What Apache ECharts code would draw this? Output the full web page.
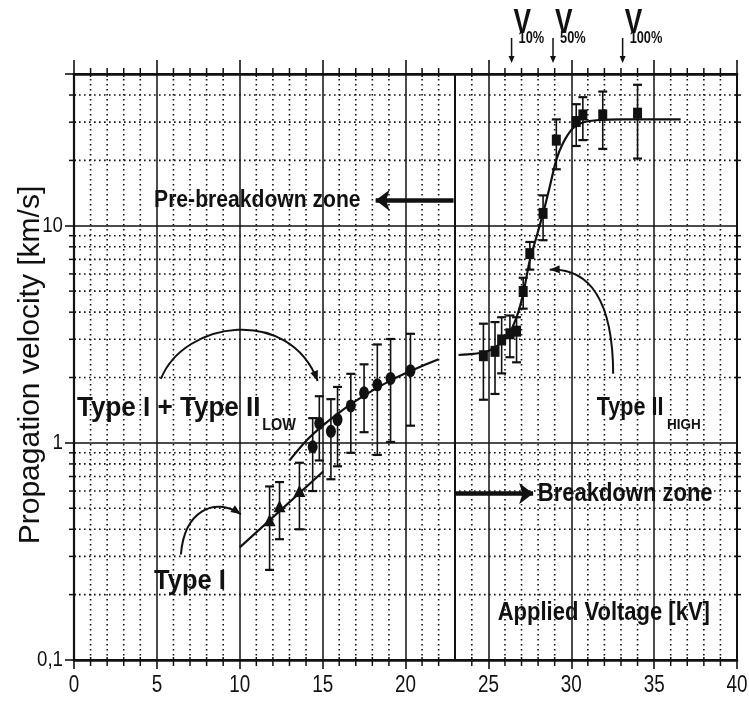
<!DOCTYPE html>
<html>
<head>
<meta charset="utf-8">
<script src="https://cdn.jsdelivr.net/npm/echarts@6/dist/echarts.min.js"></script>
<style>
  html, body { margin: 0; padding: 0; background: #fff; }
  #chart { width: 749px; height: 704px; }
</style>
</head>
<body>
<div id="chart"></div>
<script>
// ---- axes ----
const X_MIN = 0, X_MAX = 40, Y_MIN = 0.1, Y_MAX = 50;
const X_TICKS = [0, 5, 10, 15, 20, 25, 30, 35, 40];
const X_TICK_LABELS = ['0', '5', '10', '15', '20', '25', '30', '35', '40'];
const X_MINOR = [1, 2, 3, 4, 6, 7, 8, 9, 11, 12, 13, 14, 16, 17, 18, 19, 21, 22, 23, 24,
                 26, 27, 28, 29, 31, 32, 33, 34, 36, 37, 38, 39];
const Y_TICKS = [0.1, 1, 10];
const Y_TICK_LABELS = ['0,1', '1', '10'];
const Y_MINOR = [0.2, 0.3, 0.4, 0.5, 0.6, 0.7, 0.8, 0.9, 2, 3, 4, 5, 6, 7, 8, 9, 20, 30, 40];
const ZONE_BOUNDARY_KV = 23;

// ---- Type I (triangles) ----
const TYPE1_KV = [11.8, 12.4, 13.6];
const TYPE1_V  = [0.44, 0.51, 0.60];
const TYPE1_HI = [0.63, 0.66, 0.81];
const TYPE1_LO = [0.26, 0.36, 0.40];

// ---- Type I + Type II low (circles) ----
const TYPE2L_KV = [14.4, 14.8, 15.5, 15.9, 16.7, 17.5, 18.3, 19.1, 20.3];
const TYPE2L_V  = [0.96, 1.23, 1.13, 1.28, 1.48, 1.70, 1.85, 1.98, 2.15];
const TYPE2L_HI = [1.30, 1.64, 1.59, 1.81, 2.08, 2.30, 2.84, 3.01, 3.18];
const TYPE2L_LO = [0.60, 0.83, 0.68, 0.78, 0.90, 1.12, 0.88, 1.01, 1.20];

// ---- Type II high (squares) ----
const TYPE2H_KV = [24.7, 25.4, 25.8, 26.3, 26.7, 27.1, 27.5, 28.3, 29.1, 30.3, 30.7, 31.9, 34.0];
const TYPE2H_V  = [2.52, 2.64, 2.98, 3.18, 3.27, 4.98, 7.44, 11.4, 24.8, 30.2, 32.4, 32.4, 33.0];
const TYPE2H_HI = [3.54, 3.60, 3.79, 3.86, 3.79, 5.76, 8.42, 13.8, 30.9, 36.3, 39.1, 41.5, 44.6];
const TYPE2H_LO = [1.58, 1.68, 2.09, 2.48, 2.35, 4.15, 6.28, 8.58, 18.2, 23.3, 24.8, 22.6, 20.4];

// ---- fitted trends ----
const FIT1_KV = [10.0, 15.05];
const FIT1_V  = [0.33, 0.74];
const FIT2L_KV = [13.0, 14.0, 15.0, 16.0, 17.0, 18.0, 19.0, 20.0, 21.0, 22.0];
const FIT2L_V  = [0.83, 1.02, 1.20, 1.38, 1.56, 1.74, 1.92, 2.09, 2.26, 2.43];
const FIT2H_KV = [23.2, 24.1, 25.0, 26.1, 26.7, 27.1, 27.5, 27.9, 28.3, 28.7, 29.1, 29.5, 30.1, 30.7, 31.7, 33.0, 36.6];
const FIT2H_V  = [2.54, 2.57, 2.65, 3.06, 3.79, 4.86, 6.93, 8.88, 11.4, 15.1, 20.1, 24.0, 28.1, 29.9, 30.7, 30.9, 30.9];

// ---- threshold voltages ----
const V_LEVELS = ['10%', '50%', '100%'];
const V_LEVEL_KV = [26.4, 28.9, 33.1];

const INK = '#111';
const FONT = '"Liberation Sans", Arial, sans-serif';

const zip = (xs, ys) => xs.map((x, i) => [x, ys[i]]);
const bars = (xs, lo, hi) => xs.map((x, i) => [x, lo[i], hi[i]]);

const chart = echarts.init(document.getElementById('chart'));

function gridLines(data, vertical) {
  return {
    type: 'custom',
    silent: true,
    z: 1,
    data: data.map(v => vertical ? [v, 1] : [1, v]),
    encode: { x: 0, y: 1 },
    renderItem: (params, api) => {
      const v = vertical ? api.value(0) : api.value(1);
      const a = vertical ? api.coord([v, Y_MAX]) : api.coord([X_MIN, v]);
      const b = vertical ? api.coord([v, Y_MIN]) : api.coord([X_MAX, v]);
      const dot = { stroke: INK, lineWidth: 1.6, lineDash: [1.6, 3.4] };
      const solid = { stroke: INK, lineWidth: 1.5 };
      const kids = [{ type: 'line', shape: { x1: a[0], y1: a[1], x2: b[0], y2: b[1] }, style: dot }];
      if (vertical) {
        kids.push({ type: 'line', shape: { x1: a[0], y1: a[1] - 6, x2: a[0], y2: a[1] + 3 }, style: solid });
        kids.push({ type: 'line', shape: { x1: b[0], y1: b[1] - 3, x2: b[0], y2: b[1] + 6 }, style: solid });
      } else {
        kids.push({ type: 'line', shape: { x1: a[0] - 5, y1: a[1], x2: a[0] + 2, y2: a[1] }, style: solid });
        kids.push({ type: 'line', shape: { x1: b[0] - 2, y1: b[1], x2: b[0] + 4, y2: b[1] }, style: solid });
      }
      return { type: 'group', children: kids };
    }
  };
}

function errorBars(data) {
  return {
    type: 'custom',
    silent: true,
    z: 3,
    data: data,
    encode: { x: 0, y: [1, 2] },
    renderItem: (params, api) => {
      const x = api.value(0);
      const lo = api.coord([x, api.value(1)]);
      const hi = api.coord([x, api.value(2)]);
      const w = 4.5;
      const st = { stroke: INK, lineWidth: 1.6 };
      return {
        type: 'group',
        children: [
          { type: 'line', shape: { x1: lo[0], y1: lo[1], x2: hi[0], y2: hi[1] }, style: st },
          { type: 'line', shape: { x1: hi[0] - w, y1: hi[1], x2: hi[0] + w, y2: hi[1] }, style: { stroke: INK, lineWidth: 2.2 } },
          { type: 'line', shape: { x1: lo[0] - w, y1: lo[1], x2: lo[0] + w, y2: lo[1] }, style: { stroke: INK, lineWidth: 2.2 } }
        ]
      };
    }
  };
}

const fit = (xs, ys, smooth) => ({
  type: 'line', data: zip(xs, ys), showSymbol: false, symbol: 'none', smooth: smooth,
  lineStyle: { color: INK, width: 2.2 }, z: 3, silent: true
});

const markers = (xs, ys, symbol, size) => ({
  type: 'scatter', data: zip(xs, ys), symbol: symbol, symbolSize: size,
  itemStyle: { color: INK, opacity: 1 }, z: 4, silent: true
});

const xAxisBase = {
  type: 'value', min: X_MIN, max: X_MAX, interval: 5,
  axisLine: { show: true, onZero: false, lineStyle: { color: INK, width: 2.6 } },
  axisLabel: { show: false },
  splitLine: { show: false }
};

chart.setOption({
  animation: false,
  backgroundColor: '#fff',
  grid: { left: 74, right: 12, top: 74, bottom: 44, show: true, borderColor: INK, borderWidth: 2 },
  xAxis: [
    Object.assign({}, xAxisBase, {
      position: 'bottom',
      axisTick: { show: true, length: 9, lineStyle: { color: INK, width: 1.6 } },
      splitLine: { show: true, lineStyle: { color: INK, width: 1.5 } }
    }),
    Object.assign({}, xAxisBase, {
      position: 'top',
      axisTick: { show: true, length: 14, lineStyle: { color: INK, width: 1.6 } }
    })
  ],
  yAxis: {
    type: 'log', logBase: 10, min: Y_MIN, max: Y_MAX,
    axisLine: { show: true, lineStyle: { color: INK, width: 2.2 } },
    axisTick: { show: true, length: 9, lineStyle: { color: INK, width: 1.6 } },
    axisLabel: { show: false },
    splitLine: { show: true, lineStyle: { color: INK, width: 1.5 } }
  },
  series: [
    gridLines(X_MINOR.filter(v => v !== ZONE_BOUNDARY_KV), true),
    gridLines(Y_MINOR, false),
    {
      type: 'line', data: [], silent: true, z: 2,
      markLine: {
        silent: true, symbol: 'none', label: { show: false },
        lineStyle: { color: INK, width: 2, type: 'solid' },
        data: [{ xAxis: ZONE_BOUNDARY_KV }]
      }
    },
    errorBars(bars(TYPE1_KV, TYPE1_LO, TYPE1_HI)),
    errorBars(bars(TYPE2L_KV, TYPE2L_LO, TYPE2L_HI)),
    errorBars(bars(TYPE2H_KV, TYPE2H_LO, TYPE2H_HI)),
    fit(FIT1_KV, FIT1_V, false),
    fit(FIT2L_KV, FIT2L_V, 0.3),
    fit(FIT2H_KV, FIT2H_V, 0.3),
    markers(TYPE1_KV, TYPE1_V, 'triangle', [12, 12]),
    markers(TYPE2L_KV, TYPE2L_V, 'circle', [10, 13]),
    markers(TYPE2H_KV, TYPE2H_V, 'rect', [9, 11]),
    // zone arrows
    {
      type: 'line', data: [], silent: true, z: 3,
      markLine: {
        silent: true, symbol: ['none', 'arrow'], symbolSize: [16, 14], label: { show: false },
        lineStyle: { color: INK, width: 4.5, type: 'solid' },
        data: [
          [{ coord: [22.9, 13.1] }, { coord: [18.2, 13.1] }],
          [{ coord: [23.0, 0.584] }, { coord: [27.7, 0.584] }]
        ]
      }
    }
  ]
});

// ---- text and annotations, placed in data coordinates ----
const px = (kv, v) => chart.convertToPixel({ gridIndex: 0 }, [kv, v]);

function label(text, pos, opt) {
  return {
    type: 'text', x: pos[0], y: pos[1], scaleX: opt.scaleX || 1, rotation: opt.rotation || 0,
    silent: true, z: 10,
    style: {
      text: text, fill: INK, font: (opt.weight || 'bold') + ' ' + opt.size + 'px ' + FONT,
      textAlign: opt.align || 'left', textVerticalAlign: 'middle'
    }
  };
}

function arrowHead(tip, from, len, half) {
  const dx = tip[0] - from[0], dy = tip[1] - from[1];
  const d = Math.hypot(dx, dy) || 1;
  const ux = dx / d, uy = dy / d;
  const bx = tip[0] - ux * len, by = tip[1] - uy * len;
  return {
    type: 'polygon', silent: true, z: 10,
    shape: { points: [tip, [bx - uy * half, by + ux * half], [bx + uy * half, by - ux * half]] },
    style: { fill: INK }
  };
}

function curvedArrow(p0, c1, c2, p3) {
  const a = px(...p0), b = px(...c1), c = px(...c2), d = px(...p3);
  return [
    {
      type: 'bezierCurve', silent: true, z: 10,
      shape: { x1: a[0], y1: a[1], cpx1: b[0], cpy1: b[1], cpx2: c[0], cpy2: c[1], x2: d[0], y2: d[1] },
      style: { stroke: INK, lineWidth: 2, fill: null }
    },
    arrowHead(d, c, 10, 4)
  ];
}

const elements = [];

// tick labels
X_TICKS.forEach((v, i) => {
  const p = px(v, Y_MIN);
  elements.push(label(X_TICK_LABELS[i], [p[0], p[1] + 26], { size: 23, weight: 'normal', align: 'center', scaleX: 0.82 }));
});
Y_TICKS.forEach((v, i) => {
  const p = px(X_MIN, v);
  elements.push(label(Y_TICK_LABELS[i], [p[0] - 11, p[1]], { size: 22, weight: 'normal', align: 'right', scaleX: 0.85 }));
});

// axis title
elements.push(label('Propagation velocity [km/s]', [31, 365], { size: 30, weight: 'normal', align: 'center', rotation: Math.PI / 2 }));

// in-plot annotations
elements.push(label('Pre-breakdown zone', px(4.83, 13.1), { size: 24, scaleX: 0.88 }));
elements.push(label('Breakdown zone', px(27.98, 0.581), { size: 25, scaleX: 0.88 }));
elements.push(label('Applied Voltage [kV]', px(25.56, 0.164), { size: 25, scaleX: 0.88 }));
elements.push(label('Type I + Type II', px(0.18, 1.436), { size: 28, scaleX: 0.93 }));
elements.push(label('LOW', px(11.36, 1.211), { size: 17, scaleX: 0.85 }));
elements.push(label('Type I', px(4.83, 0.23), { size: 28, scaleX: 0.91 }));
elements.push(label('Type II', px(31.54, 1.451), { size: 26, scaleX: 0.83 }));
elements.push(label('HIGH', px(35.77, 1.211), { size: 15, scaleX: 0.9 }));

// curved pointers
elements.push(...curvedArrow([5.24, 1.97], [6.65, 3.66], [12.99, 4.29], [14.70, 1.93]));
elements.push(...curvedArrow([6.45, 0.306], [6.65, 0.485], [8.46, 0.569], [10.07, 0.469]));
elements.push(...curvedArrow([32.53, 2.08], [32.51, 4.53], [31.12, 6.37], [28.70, 6.28]));

// threshold voltage markers above the frame
const topY = px(X_MIN, Y_MAX)[1];
V_LEVEL_KV.forEach((kv, i) => {
  const x = px(kv, Y_MAX)[0];
  elements.push({
    type: 'line', silent: true, z: 10,
    shape: { x1: x, y1: topY - 36, x2: x, y2: topY - 16 },
    style: { stroke: INK, lineWidth: 1.5 }
  });
  elements.push(arrowHead([x, topY - 11], [x, topY - 36], 7, 3));
  elements.push(label('V', [x + 2, topY - 51], { size: 35, scaleX: 0.75 }));
  elements.push(label(V_LEVELS[i], [x + 7, topY - 35], { size: 16, scaleX: 0.8 }));
});

chart.setOption({ graphic: { elements: elements } });
</script>
</body>
</html>
